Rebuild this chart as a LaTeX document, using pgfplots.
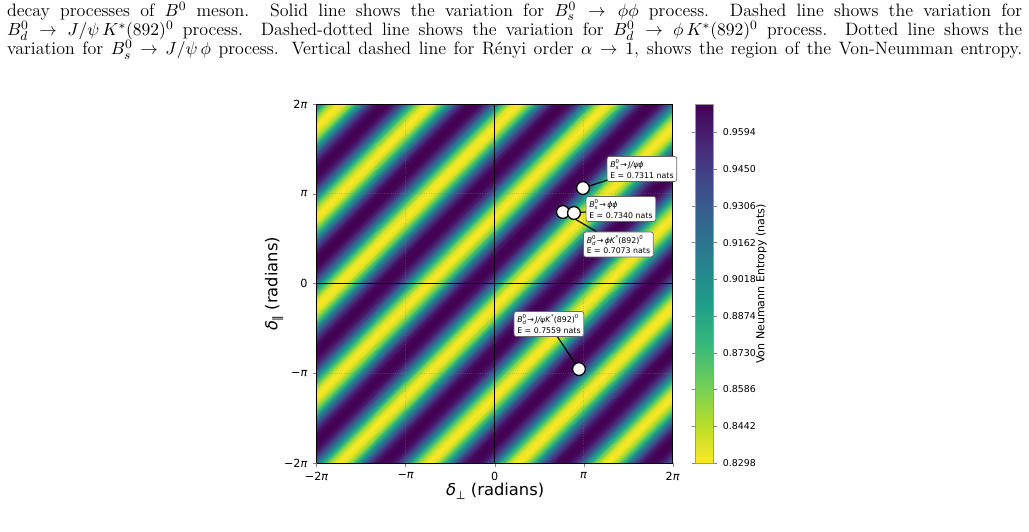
\documentclass[border=0pt]{standalone}
\usepackage{fontspec}
\usepackage{pgfplots}
\pgfplotsset{compat=1.18}
\newfontfamily\dv{DejaVu Sans}
\pgfplotsset{colormap={vr}{rgb255=(253,231,37) rgb255=(180,222,44) rgb255=(109,205,89) rgb255=(53,183,121) rgb255=(31,158,137) rgb255=(38,130,142) rgb255=(49,104,142) rgb255=(62,74,137) rgb255=(72,40,120) rgb255=(68,1,84)}}
\newcommand{\ssp}[2]{\makebox[0pt][l]{\raisebox{-0.45ex}{\fontsize{3.4}{4}\selectfont\textit{#1}}}\raisebox{0.95ex}{\fontsize{3.4}{4}\selectfont #2}}
\newcommand{\sps}[1]{\raisebox{0.95ex}{\fontsize{3.4}{4}\selectfont #1}}
\begin{document}
\begin{tikzpicture}
\begin{axis}[
  at={(197.9pt,42.5pt)}, anchor=south west,
  scale only axis, width=222.5pt, height=224.4pt,
  view={0}{90},
  xmin=-2, xmax=2, ymin=-2, ymax=2,
  xtick={-2,-1,0,1,2}, ytick={-2,-1,0,1,2},
  xticklabels={−2\textit{π},−\textit{π},0,\textit{π},2\textit{π}},
  yticklabels={−2\textit{π},−\textit{π},0,\textit{π},2\textit{π}},
  ztick=\empty,
  tick pos=left,
  tick align=outside, major tick length=2.2pt,
  ticklabel style={font=\dv\fontsize{7}{8}\selectfont},
  axis on top,
  axis line style={line width=0.6pt},
  colormap name=vr,
  point meta min=0.8298, point meta max=0.9705,
  colorbar,
  colorbar style={
    at={(parent axis.north east)}, anchor=north west, xshift=5.9pt,
    width=11.25pt,
    ytick={0.8298,0.8442,0.8586,0.8730,0.8874,0.9018,0.9162,0.9306,0.9450,0.9594},
    yticklabels={0.8298,0.8442,0.8586,0.8730,0.8874,0.9018,0.9162,0.9306,0.9450,0.9594},
    yticklabel style={font=\dv\fontsize{5.9}{7}\selectfont},
    tick align=outside, major tick length=2.2pt,
    axis line style={draw=gray!80, line width=0.5pt},
  },
]
\addplot3[surf, shader=interp, mesh/cols=2, point meta=\thisrowno{2}] table[header=false, x index=0, y index=1, z index=2] {
-2 -6 .9134
2 -2 .9134
-2 -5.9375 .9400
2 -1.9375 .9400
-2 -5.875 .9589
2 -1.875 .9589
-2 -5.8125 .9685
2 -1.8125 .9685
-2 -5.75 .9705
2 -1.75 .9705
-2 -5.6875 .9685
2 -1.6875 .9685
-2 -5.625 .9589
2 -1.625 .9589
-2 -5.5625 .9400
2 -1.5625 .9400
-2 -5.5 .9134
2 -1.5 .9134
-2 -5.4375 .8834
2 -1.4375 .8834
-2 -5.375 .8560
2 -1.375 .8560
-2 -5.3125 .8367
2 -1.3125 .8367
-2 -5.25 .8298
2 -1.25 .8298
-2 -5.1875 .8367
2 -1.1875 .8367
-2 -5.125 .8560
2 -1.125 .8560
-2 -5.0625 .8834
2 -1.0625 .8834
-2 -5 .9134
2 -1 .9134
-2 -4.9375 .9400
2 -0.9375 .9400
-2 -4.875 .9589
2 -0.875 .9589
-2 -4.8125 .9685
2 -0.8125 .9685
-2 -4.75 .9705
2 -0.75 .9705
-2 -4.6875 .9685
2 -0.6875 .9685
-2 -4.625 .9589
2 -0.625 .9589
-2 -4.5625 .9400
2 -0.5625 .9400
-2 -4.5 .9134
2 -0.5 .9134
-2 -4.4375 .8834
2 -0.4375 .8834
-2 -4.375 .8560
2 -0.375 .8560
-2 -4.3125 .8367
2 -0.3125 .8367
-2 -4.25 .8298
2 -0.25 .8298
-2 -4.1875 .8367
2 -0.1875 .8367
-2 -4.125 .8560
2 -0.125 .8560
-2 -4.0625 .8834
2 -0.0625 .8834
-2 -4 .9134
2 0 .9134
-2 -3.9375 .9400
2 0.0625 .9400
-2 -3.875 .9589
2 0.125 .9589
-2 -3.8125 .9685
2 0.1875 .9685
-2 -3.75 .9705
2 0.25 .9705
-2 -3.6875 .9685
2 0.3125 .9685
-2 -3.625 .9589
2 0.375 .9589
-2 -3.5625 .9400
2 0.4375 .9400
-2 -3.5 .9134
2 0.5 .9134
-2 -3.4375 .8834
2 0.5625 .8834
-2 -3.375 .8560
2 0.625 .8560
-2 -3.3125 .8367
2 0.6875 .8367
-2 -3.25 .8298
2 0.75 .8298
-2 -3.1875 .8367
2 0.8125 .8367
-2 -3.125 .8560
2 0.875 .8560
-2 -3.0625 .8834
2 0.9375 .8834
-2 -3 .9134
2 1 .9134
-2 -2.9375 .9400
2 1.0625 .9400
-2 -2.875 .9589
2 1.125 .9589
-2 -2.8125 .9685
2 1.1875 .9685
-2 -2.75 .9705
2 1.25 .9705
-2 -2.6875 .9685
2 1.3125 .9685
-2 -2.625 .9589
2 1.375 .9589
-2 -2.5625 .9400
2 1.4375 .9400
-2 -2.5 .9134
2 1.5 .9134
-2 -2.4375 .8834
2 1.5625 .8834
-2 -2.375 .8560
2 1.625 .8560
-2 -2.3125 .8367
2 1.6875 .8367
-2 -2.25 .8298
2 1.75 .8298
-2 -2.1875 .8367
2 1.8125 .8367
-2 -2.125 .8560
2 1.875 .8560
-2 -2.0625 .8834
2 1.9375 .8834
-2 -2 .9134
2 2 .9134
-2 -1.9375 .9400
2 2.0625 .9400
-2 -1.875 .9589
2 2.125 .9589
-2 -1.8125 .9685
2 2.1875 .9685
-2 -1.75 .9705
2 2.25 .9705
-2 -1.6875 .9685
2 2.3125 .9685
-2 -1.625 .9589
2 2.375 .9589
-2 -1.5625 .9400
2 2.4375 .9400
-2 -1.5 .9134
2 2.5 .9134
-2 -1.4375 .8834
2 2.5625 .8834
-2 -1.375 .8560
2 2.625 .8560
-2 -1.3125 .8367
2 2.6875 .8367
-2 -1.25 .8298
2 2.75 .8298
-2 -1.1875 .8367
2 2.8125 .8367
-2 -1.125 .8560
2 2.875 .8560
-2 -1.0625 .8834
2 2.9375 .8834
-2 -1 .9134
2 3 .9134
-2 -0.9375 .9400
2 3.0625 .9400
-2 -0.875 .9589
2 3.125 .9589
-2 -0.8125 .9685
2 3.1875 .9685
-2 -0.75 .9705
2 3.25 .9705
-2 -0.6875 .9685
2 3.3125 .9685
-2 -0.625 .9589
2 3.375 .9589
-2 -0.5625 .9400
2 3.4375 .9400
-2 -0.5 .9134
2 3.5 .9134
-2 -0.4375 .8834
2 3.5625 .8834
-2 -0.375 .8560
2 3.625 .8560
-2 -0.3125 .8367
2 3.6875 .8367
-2 -0.25 .8298
2 3.75 .8298
-2 -0.1875 .8367
2 3.8125 .8367
-2 -0.125 .8560
2 3.875 .8560
-2 -0.0625 .8834
2 3.9375 .8834
-2 0 .9134
2 4 .9134
-2 0.0625 .9400
2 4.0625 .9400
-2 0.125 .9589
2 4.125 .9589
-2 0.1875 .9685
2 4.1875 .9685
-2 0.25 .9705
2 4.25 .9705
-2 0.3125 .9685
2 4.3125 .9685
-2 0.375 .9589
2 4.375 .9589
-2 0.4375 .9400
2 4.4375 .9400
-2 0.5 .9134
2 4.5 .9134
-2 0.5625 .8834
2 4.5625 .8834
-2 0.625 .8560
2 4.625 .8560
-2 0.6875 .8367
2 4.6875 .8367
-2 0.75 .8298
2 4.75 .8298
-2 0.8125 .8367
2 4.8125 .8367
-2 0.875 .8560
2 4.875 .8560
-2 0.9375 .8834
2 4.9375 .8834
-2 1 .9134
2 5 .9134
-2 1.0625 .9400
2 5.0625 .9400
-2 1.125 .9589
2 5.125 .9589
-2 1.1875 .9685
2 5.1875 .9685
-2 1.25 .9705
2 5.25 .9705
-2 1.3125 .9685
2 5.3125 .9685
-2 1.375 .9589
2 5.375 .9589
-2 1.4375 .9400
2 5.4375 .9400
-2 1.5 .9134
2 5.5 .9134
-2 1.5625 .8834
2 5.5625 .8834
-2 1.625 .8560
2 5.625 .8560
-2 1.6875 .8367
2 5.6875 .8367
-2 1.75 .8298
2 5.75 .8298
-2 1.8125 .8367
2 5.8125 .8367
-2 1.875 .8560
2 5.875 .8560
-2 1.9375 .8834
2 5.9375 .8834
-2 2 .9134
2 6 .9134
};
% faint grid
\draw[gray, opacity=0.35, densely dotted, line width=0.4pt] (axis cs:-1,-2,1) -- (axis cs:-1,2,1);
\draw[gray, opacity=0.35, densely dotted, line width=0.4pt] (axis cs:1,-2,1) -- (axis cs:1,2,1);
\draw[gray, opacity=0.35, densely dotted, line width=0.4pt] (axis cs:-2,-1,1) -- (axis cs:2,-1,1);
\draw[gray, opacity=0.35, densely dotted, line width=0.4pt] (axis cs:-2,1,1) -- (axis cs:2,1,1);
% zero lines
\addplot3[black, line width=0.9pt] coordinates {(0,-2,1) (0,2,1)};
\addplot3[black, line width=0.9pt] coordinates {(-2,0,1) (2,0,1)};
% annotation connectors
\draw[black, line width=0.7pt] (axis cs:0.992,1.064,1) -- (axis cs:1.655,1.276,1);
\draw[black, line width=0.7pt] (axis cs:0.891,0.786,1) -- (axis cs:1.419,0.830,1);
\draw[black, line width=0.7pt] (axis cs:0.767,0.797,1) -- (axis cs:1.391,0.435,1);
\draw[black, line width=0.7pt] (axis cs:0.947,-0.953,1) -- (axis cs:0.610,-0.451,1);
% decay points
\addplot3[only marks, mark=*, mark size=4pt, mark options={fill=white, draw=black, line width=0.8pt}] coordinates {(0.767,0.797,1) (0.891,0.786,1) (0.992,1.064,1) (0.947,-0.953,1)};
\coordinate (b1) at (axis cs:1.655,1.276,1);
\coordinate (b2) at (axis cs:1.419,0.830,1);
\coordinate (b3) at (axis cs:1.391,0.435,1);
\coordinate (b4) at (axis cs:0.610,-0.451,1);
\end{axis}
\tikzset{ann/.style={draw=black!60, fill=white, rounded corners=1.5pt, line width=0.45pt, inner sep=2pt, align=left, font=\dv\fontsize{4.9}{6.5}\selectfont}}
\node[ann] at (b1) {\textit{B}\ssp{s}{0}\,→\,\textit{J/ψϕ}\\E = 0.7311 nats};
\node[ann] at (b2) {\textit{B}\ssp{s}{0}\,→\,\textit{ϕϕ}\\E = 0.7340 nats};
\node[ann] at (b3) {\textit{B}\ssp{d}{0}\,→\,\textit{ϕK}\sps{*}(892)\sps{0}\\E = 0.7073 nats};
\node[ann] at (b4) {\textit{B}\ssp{d}{0}\,→\,\textit{J/ψK}\sps{*}(892)\sps{0}\\E = 0.7559 nats};
% axis labels
\node[font=\dv\fontsize{10.2}{12}\selectfont] at (309.4pt,25pt) {\textit{δ}\raisebox{-0.4ex}{\fontsize{7}{8}\selectfont ⊥} (radians)};
\node[rotate=90, font=\dv\fontsize{10.2}{12}\selectfont] at (171.3pt,154.4pt) {\textit{δ}\raisebox{-0.4ex}{\fontsize{7}{8}\selectfont ∥} (radians)};
\node[rotate=90, font=\dv\fontsize{6.9}{8}\selectfont] at (475.8pt,154.4pt) {Von Neumann Entropy (nats)};
% caption text
\node[anchor=base west, inner sep=0pt, font=\fontsize{11.2}{12}\selectfont] at (4.2pt,321.6pt) {\makebox[634.5pt][s]{decay processes of $B^0$ meson. Solid line shows the variation for $B_s^0 \to \phi\phi$ process. Dashed line shows the variation for}};
\node[anchor=base west, inner sep=0pt, font=\fontsize{11.2}{12}\selectfont] at (4.2pt,309.6pt) {\makebox[634.5pt][s]{$B_d^0 \to J/\psi\, K^*(892)^0$ process. Dashed-dotted line shows the variation for $B_d^0 \to \phi\, K^*(892)^0$ process. Dotted line shows the}};
\node[anchor=base west, inner sep=0pt, font=\fontsize{11.2}{12}\selectfont] at (4.2pt,297.6pt) {\makebox[634.5pt][s]{variation for $B_s^0 \to J/\psi\, \phi$ process. Vertical dashed line for Rényi order $\alpha \to 1$, shows the region of the Von-Neumman entropy.}};
\pgfresetboundingbox
\path[use as bounding box] (0,0) rectangle (643.1pt,331.9pt);
\end{tikzpicture}
\end{document}
